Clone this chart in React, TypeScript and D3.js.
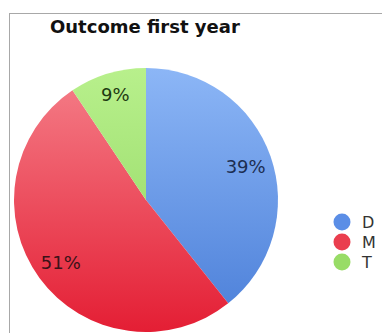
import React from "react";
import * as d3 from "d3";

const categories = ["D", "M", "T"];
const values = [39.3, 51.3, 9.4];
const labels = ["39%", "51%", "9%"];
const title = "Outcome first year";

const colorsTop = ["#8cb6f6", "#f5808a", "#b8f08c"];
const colorsBot = ["#4a7ed8", "#e41e34", "#8ed45e"];
const legendColors = ["#5b8ee6", "#ea3e4e", "#98dc66"];
const labelColors = ["#1c2e52", "#3a1218", "#1e3a12"];

export default function App() {
  const W = 382, H = 333;
  const cx = 146, cy = 200, r = 132;
  const pie = d3.pie<number>().sort(null).value((d) => d);
  const arcs = pie(values);
  const arc = d3.arc<d3.PieArcDatum<number>>().innerRadius(0).outerRadius(r);
  const labelArc = d3.arc<d3.PieArcDatum<number>>().innerRadius(r * 0.8).outerRadius(r * 0.8);
  const legendY = d3.scalePoint<string>().domain(categories).range([222, 262]);
  const labelDy = [1, 0, -4];

  return (
    <svg width={W} height={H} style={{ position: "absolute", left: 0, top: 0 }}>
      <defs>
        {categories.map((c, i) => (
          <linearGradient key={c} id={`g${i}`} gradientUnits="userSpaceOnUse" x1={0} y1={-r} x2={0} y2={r}>
            <stop offset="0%" stopColor={colorsTop[i]} />
            <stop offset="100%" stopColor={colorsBot[i]} />
          </linearGradient>
        ))}
      </defs>
      <rect x={0} y={0} width={W} height={H} fill="#fff" />
      <rect x={9.5} y={13.5} width={W + 10} height={H + 10} fill="none" stroke="#a8a8a8" strokeWidth={1} />
      <text x={50} y={33} fontFamily="DejaVu Sans" fontWeight="bold" fontSize={18} fill="#111">{title}</text>
      <g transform={`translate(${cx},${cy})`}>
        {arcs.map((a, i) => (
          <path key={i} d={arc(a) || ""} fill={`url(#g${i})`} />
        ))}
        {arcs.map((a, i) => {
          const [x, y] = labelArc.centroid(a);
          return (
            <text key={i} x={x} y={y + labelDy[i]} textAnchor="middle" dominantBaseline="central"
              fontFamily="DejaVu Sans" fontSize={18} fill={labelColors[i]}>{labels[i]}</text>
          );
        })}
      </g>
      <g>
        {categories.map((c, i) => (
          <g key={c} transform={`translate(342,${legendY(c)})`}>
            <circle r={8.5} fill={legendColors[i]} />
            <text x={20} dominantBaseline="central" fontFamily="DejaVu Sans" fontSize={16} fill="#333">{c}</text>
          </g>
        ))}
      </g>
    </svg>
  );
}
